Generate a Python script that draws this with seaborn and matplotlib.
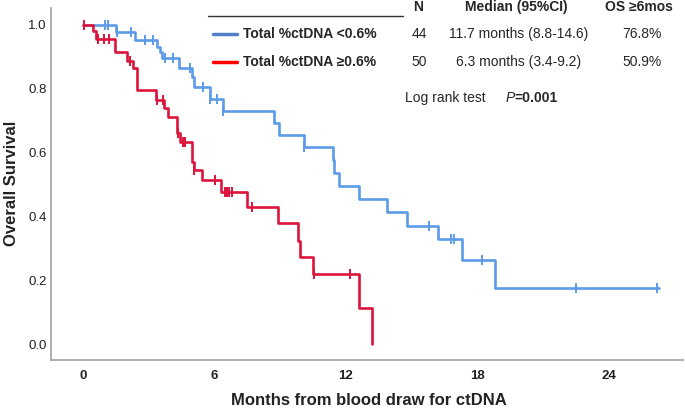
import numpy as np
import pandas as pd
import seaborn as sns
import matplotlib.pyplot as plt
from matplotlib.lines import Line2D

# ---------------------------------------------------
# Datos (meses, supervivencia)
# ---------------------------------------------------
low_times = [0, 1.5, 2.37, 3.36, 3.5, 3.6, 4.38, 5.0, 5.07, 5.8, 6.38, 8.72, 8.97,
             10.1, 11.4, 11.48, 11.69, 12.6, 13.9, 14.78, 16.2, 17.3, 18.8, 26.3]
low_surv = [1.0, 0.978, 0.953, 0.932, 0.916, 0.897, 0.866, 0.838, 0.805, 0.767, 0.731,
            0.694, 0.655, 0.618, 0.577, 0.537, 0.495, 0.455, 0.414, 0.371, 0.328,
            0.263, 0.177, 0.177]
low_cens = [1.0, 1.16, 1.55, 2.19, 2.83, 3.2, 3.74, 4.12, 4.9, 5.5, 5.8, 6.1, 6.4,
            10.1, 15.8, 16.8, 16.95, 18.2, 22.5, 26.2]

high_times = [0, 0.45, 0.6, 1.45, 2.0, 2.3, 2.45, 3.35, 3.7, 3.9, 4.3, 4.45, 5.0,
              5.05, 5.45, 6.3, 7.5, 8.9, 9.8, 9.9, 10.5, 12.6, 13.2]
high_surv = [1.0, 0.98, 0.955, 0.915, 0.888, 0.865, 0.795, 0.765, 0.74, 0.713, 0.66,
             0.634, 0.571, 0.545, 0.514, 0.477, 0.43, 0.378, 0.324, 0.272, 0.219,
             0.112, 0.0]
high_cens = [0.05, 0.7, 0.95, 1.2, 2.15, 3.36, 3.67, 4.35, 4.58, 4.66, 5.06, 6.03,
             6.48, 6.59, 6.68, 6.79, 7.7, 10.56, 12.2]

x_ticks = [0, 6, 12, 18, 24]
y_ticks = [0.0, 0.2, 0.4, 0.6, 0.8, 1.0]

groups = ['Total %ctDNA <0.6%', 'Total %ctDNA \u22650.6%']
n_pts = ['44', '50']
medians = ['11.7 months (8.8-14.6)', '6.3 months (3.4-9.2)']
os6 = ['76.8%', '50.9%']

C_LOW = '#5b9be8'
C_HIGH = '#dc143c'
LEG_LOW = '#4f7fc4'
LEG_HIGH = '#ff0000'

sns.set_theme(style='white')
plt.rcParams['font.family'] = ['Liberation Sans', 'DejaVu Sans']

W, H = 685, 411
fig = plt.figure(figsize=(6.85, 4.11), dpi=100)
ax = fig.add_axes([51 / W, 51 / H, 632 / W, 352 / H])


def surv_at(times, surv, t):
    idx = np.searchsorted(times, t, side='right') - 1
    return np.array(surv)[idx]


for times, surv, cens, col in [(low_times, low_surv, low_cens, C_LOW),
                               (high_times, high_surv, high_cens, C_HIGH)]:
    df = pd.DataFrame({'t': times, 's': surv})
    sns.lineplot(data=df, x='t', y='s', drawstyle='steps-post', estimator=None,
                 sort=False, color=col, linewidth=1.9, ax=ax)
    dc = pd.DataFrame({'t': cens, 's': surv_at(times, surv, cens)})
    sns.scatterplot(data=dc, x='t', y='s', marker='|', s=50, linewidth=1.4,
                    color=col, ax=ax, zorder=3)

ax.set_xlim(-1.46, 27.4)
ax.set_ylim(-0.05, 1.053)
ax.set_xticks(x_ticks)
ax.set_xticklabels([str(t) for t in x_ticks], fontweight='bold', fontsize=9.5)
ax.set_yticks(y_ticks)
ax.set_yticklabels([f'{t:.1f}' for t in y_ticks], fontsize=9.5)
ax.tick_params(axis='both', length=0, colors='#222222')
ax.tick_params(axis='x', pad=7)
ax.tick_params(axis='y', pad=3)
ax.set_xlabel('')
ax.set_ylabel('')
for s in ['top', 'right']:
    ax.spines[s].set_visible(False)
for s in ['left', 'bottom']:
    ax.spines[s].set_color('#a8a8a8')
    ax.spines[s].set_linewidth(1.3)

fig.text(12 / W, 1 - 183 / H, 'Overall Survival', rotation=90, ha='center',
         va='center', fontsize=12, fontweight='bold', color='#222222')
fig.text(369 / W, 1 - 400 / H, 'Months from blood draw for ctDNA', ha='center',
         va='center', fontsize=12, fontweight='bold', color='#222222')

# tabla de la leyenda
fig.add_artist(Line2D([208 / W, 403 / W], [1 - 16 / H, 1 - 16 / H],
                      color='#333333', linewidth=1.0))
hy = 1 - 7 / H
fig.text(418 / W, hy, 'N', ha='center', va='center', fontsize=10, fontweight='bold')
fig.text(516 / W, hy, 'Median (95%CI)', ha='center', va='center', fontsize=10,
         fontweight='bold')
fig.text(639 / W, hy, 'OS \u22656mos', ha='center', va='center', fontsize=10,
         fontweight='bold')

for i, (yy, lc) in enumerate([(34, LEG_LOW), (62, LEG_HIGH)]):
    fy = 1 - yy / H
    fig.add_artist(Line2D([213 / W, 237 / W], [fy, fy], color=lc, linewidth=2.5))
    fig.text(243 / W, fy, groups[i], ha='left', va='center', fontsize=10,
             fontweight='bold')
    fig.text(419 / W, fy, n_pts[i], ha='center', va='center', fontsize=10)
    fig.text(519 / W, fy, medians[i], ha='center', va='center', fontsize=10)
    fig.text(642 / W, fy, os6[i], ha='center', va='center', fontsize=10)

ly = 1 - 98 / H
fig.text(405 / W, ly, 'Log rank test', ha='left', va='center', fontsize=10)
fig.text(506 / W, ly, 'P', ha='left', va='center', fontsize=10, style='italic')
fig.text(514 / W, ly, '=0.001', ha='left', va='center', fontsize=10,
         fontweight='bold')

fig.savefig('out.png', dpi=100)
